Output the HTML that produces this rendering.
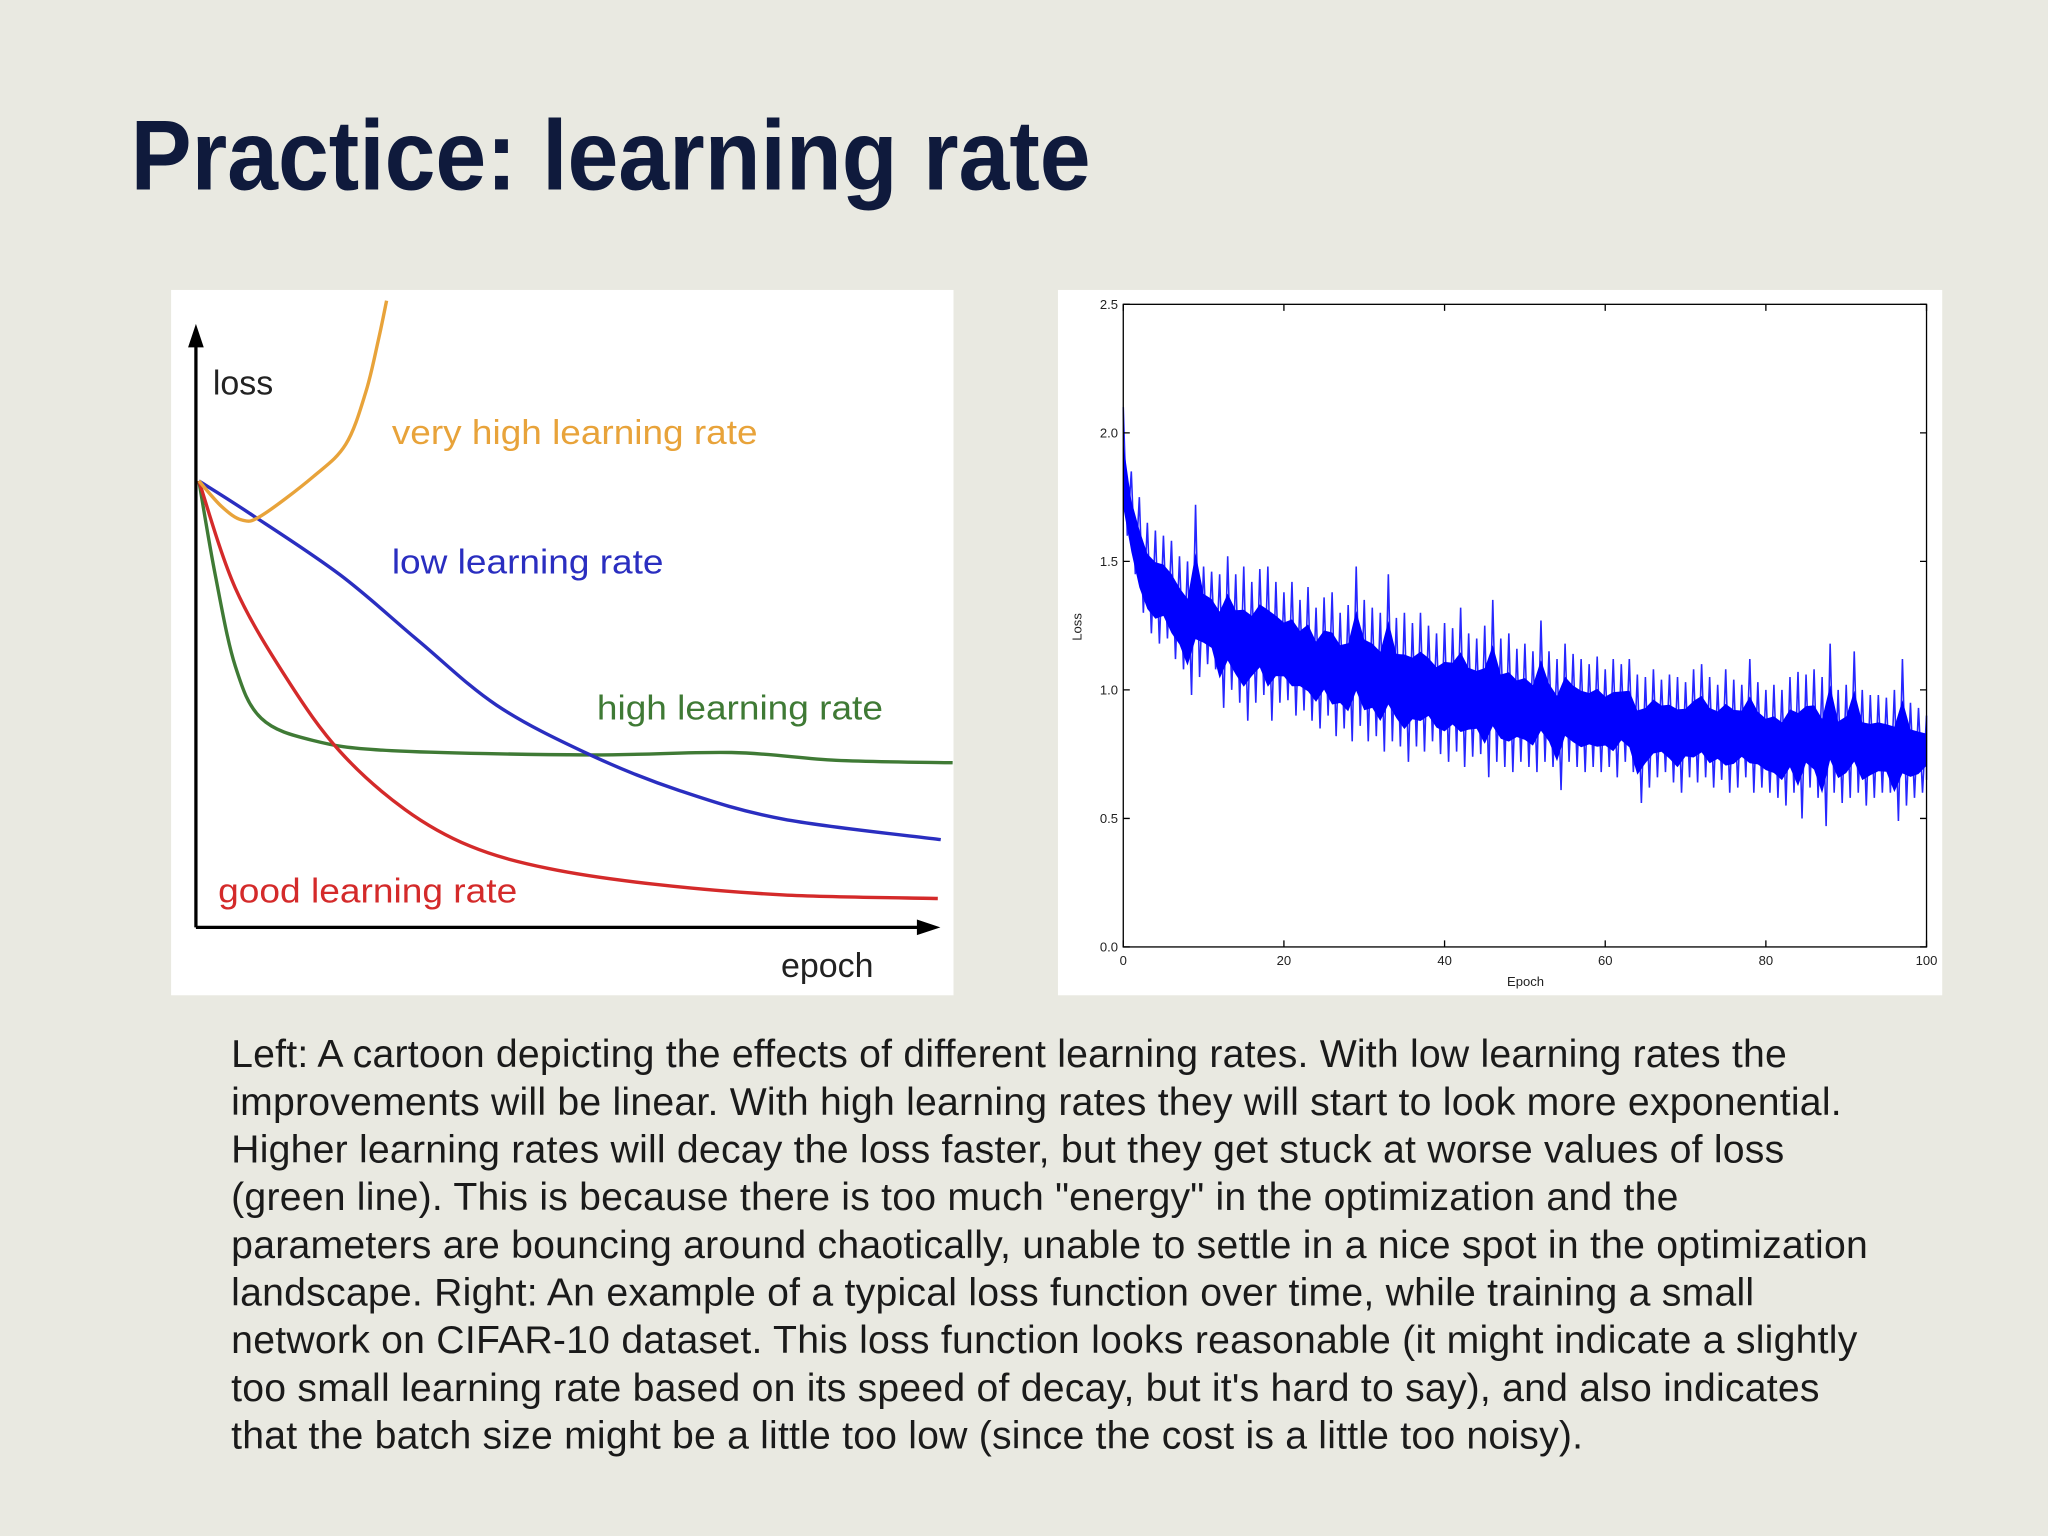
<!DOCTYPE html>
<html><head><meta charset="utf-8"><style>html,body{margin:0;padding:0;background:#e9e9e1}svg{display:block}</style></head>
<body>
<svg id="slide" width="2048" height="1536" viewBox="0 0 1568 1176" xmlns="http://www.w3.org/2000/svg" font-family="'Liberation Sans', sans-serif">
<rect width="1568" height="1176" fill="#e9e9e1"/>
<text x="100" y="145" font-size="76" font-weight="bold" fill="#0f1a3c" textLength="735" lengthAdjust="spacingAndGlyphs">Practice: learning rate</text>

<g>
<rect x="131" y="222" width="599" height="540" fill="#ffffff"/>
<g id="lc"></g>
<line x1="150" y1="710" x2="150" y2="262" stroke="#000" stroke-width="2.5"/>
<polygon points="150,248 144,266 156,266" fill="#000"/>
<line x1="150" y1="710" x2="704" y2="710" stroke="#000" stroke-width="2.5"/>
<polygon points="720,710 702,704 702,716" fill="#000"/>
<text x="163" y="302" font-size="26" fill="#222">loss</text>
<text x="598" y="748" font-size="26" fill="#222">epoch</text>
<text x="300" y="340" font-size="26" fill="#e8a33a" textLength="280" lengthAdjust="spacingAndGlyphs">very high learning rate</text>
<text x="300" y="439" font-size="26" fill="#2a2ec0" textLength="208" lengthAdjust="spacingAndGlyphs">low learning rate</text>
<text x="457" y="551" font-size="26" fill="#3f7a35" textLength="219" lengthAdjust="spacingAndGlyphs">high learning rate</text>
<text x="167" y="691" font-size="26" fill="#d42a2a" textLength="229" lengthAdjust="spacingAndGlyphs">good learning rate</text>
</g>

<g>
<rect x="810" y="222" width="677" height="540" fill="#ffffff"/>
<g id="rc"></g>
<rect x="860" y="233" width="615" height="492" fill="none" stroke="#000" stroke-width="1"/>
<text x="828" y="480" font-size="10" fill="#222" text-anchor="middle" transform="rotate(-90 828 480)">Loss</text>
<text x="1168" y="755" font-size="10" fill="#222" text-anchor="middle">Epoch</text>
</g>

<g font-size="30" fill="#1a1a1a">
<text x="177" y="817" textLength="1191" lengthAdjust="spacing">Left: A cartoon depicting the effects of different learning rates. With low learning rates the</text>
<text x="177" y="853.5" textLength="1233" lengthAdjust="spacing">improvements will be linear. With high learning rates they will start to look more exponential.</text>
<text x="177" y="890" textLength="1189" lengthAdjust="spacing">Higher learning rates will decay the loss faster, but they get stuck at worse values of loss</text>
<text x="177" y="926.5" textLength="1108" lengthAdjust="spacing">(green line). This is because there is too much "energy" in the optimization and the</text>
<text x="177" y="963" textLength="1253" lengthAdjust="spacing">parameters are bouncing around chaotically, unable to settle in a nice spot in the optimization</text>
<text x="177" y="999.5" textLength="1166" lengthAdjust="spacing">landscape. Right: An example of a typical loss function over time, while training a small</text>
<text x="177" y="1036" textLength="1245" lengthAdjust="spacing">network on CIFAR-10 dataset. This loss function looks reasonable (it might indicate a slightly</text>
<text x="177" y="1072.5" textLength="1216" lengthAdjust="spacing">too small learning rate based on its speed of decay, but it's hard to say), and also indicates</text>
<text x="177" y="1109" textLength="1035" lengthAdjust="spacing">that the batch size might be a little too low (since the cost is a little too noisy).</text>
</g>
</svg>
<script>
// ---- Left cartoon data (abstract epoch 0-100, loss 0-100) ----
const lowX = [0.4,7,19.4,29.9,40.5,52.8,65.1,79.2,100.4];
const lowY = [74.3,69.1,58.7,47.8,37,28.9,22.8,18,14.6];
const highX = [0.4,2.6,5.3,8.8,15.8,26.4,52.8,72.2,86.3,102];
const highY = [74.3,58.7,43.5,34.8,31.1,29.4,28.7,29.1,27.8,27.4];
const goodX = [0.4,5.3,12.3,19.4,28.2,37,47.5,61.6,79.2,100];
const goodY = [74.3,56.5,41.3,29.3,19.6,13.5,9.8,7.2,5.4,4.8];
const veryX = [0.4,3.5,6.2,8.8,15.8,20.2,22.9,24.6,25.7];
const veryY = [74.3,70,67.8,68.5,75,80.4,89.1,97.8,104.3];

// ---- Right chart data ----
const xTicks = [0,20,40,60,80,100];
const yTicks = [0.0,0.5,1.0,1.5,2.0,2.5];
const yTickLabels = ["0.0","0.5","1.0","1.5","2.0","2.5"];
const lossUpper = [2.1,1.85,1.75,1.65,1.62,1.6,1.58,1.52,1.5,1.72,
1.48,1.46,1.45,1.52,1.45,1.48,1.42,1.47,1.48,1.42,
1.38,1.42,1.35,1.4,1.32,1.36,1.38,1.3,1.33,1.48,
1.35,1.32,1.3,1.45,1.28,1.3,1.26,1.3,1.25,1.22,
1.26,1.24,1.32,1.22,1.2,1.25,1.35,1.2,1.22,1.16,
1.18,1.15,1.27,1.15,1.12,1.18,1.14,1.12,1.1,1.13,
1.08,1.12,1.1,1.12,1.06,1.05,1.08,1.04,1.06,1.05,
1.03,1.08,1.1,1.05,1.02,1.08,1.04,1.02,1.12,1.03,
1.0,1.02,1.0,1.05,1.07,1.06,1.08,1.05,1.18,1.0,
1.02,1.15,1.0,0.98,0.98,0.97,1.0,1.12,0.95,0.93,0.9];
const lossLower = [1.6,1.45,1.3,1.22,1.18,1.2,1.12,1.08,0.98,1.05,
1.1,1.08,0.93,1.0,0.95,0.88,0.95,0.98,0.88,0.95,
0.96,0.9,0.92,0.88,0.85,0.9,0.82,0.85,0.8,0.86,
0.8,0.82,0.76,0.8,0.78,0.72,0.78,0.76,0.8,0.75,
0.72,0.76,0.7,0.74,0.75,0.66,0.72,0.7,0.68,0.72,
0.7,0.68,0.72,0.7,0.61,0.72,0.7,0.68,0.7,0.68,
0.7,0.66,0.72,0.68,0.56,0.62,0.66,0.68,0.64,0.6,
0.66,0.64,0.66,0.62,0.65,0.6,0.62,0.66,0.6,0.62,
0.6,0.58,0.55,0.6,0.5,0.62,0.58,0.47,0.6,0.56,
0.58,0.6,0.55,0.58,0.6,0.6,0.49,0.55,0.58,0.6,0.65];

const NS = "http://www.w3.org/2000/svg";
function mk(tag, attrs, parent){const e=document.createElementNS(NS,tag);for(const k in attrs)e.setAttribute(k,attrs[k]);parent.appendChild(e);return e;}

// Left scales
const lx = v => 150 + v*5.68;
const ly = v => 710 - v*4.6;
function smooth(xs, ys){
  const p = xs.map((x,i)=>[lx(x),ly(ys[i])]);
  let d = "M"+p[0][0]+","+p[0][1];
  for(let i=0;i<p.length-1;i++){
    const p0=p[Math.max(0,i-1)],p1=p[i],p2=p[i+1],p3=p[Math.min(p.length-1,i+2)];
    const c1=[p1[0]+(p2[0]-p0[0])/6,p1[1]+(p2[1]-p0[1])/6];
    const c2=[p2[0]-(p3[0]-p1[0])/6,p2[1]-(p3[1]-p1[1])/6];
    d+=" C"+c1[0]+","+c1[1]+" "+c2[0]+","+c2[1]+" "+p2[0]+","+p2[1];
  }
  return d;
}
const lc = document.getElementById("lc");
const c1 = mk("path",{d:smooth(highX,highY),fill:"none",stroke:"#3f7a35","stroke-width":2.6},lc);


const c2 = mk("path",{d:smooth(goodX,goodY),fill:"none",stroke:"#d42a2a","stroke-width":2.6},lc);


const c3 = mk("path",{d:smooth(lowX,lowY),fill:"none",stroke:"#2a2ec0","stroke-width":2.6},lc);


const c4 = mk("path",{d:smooth(veryX,veryY),fill:"none",stroke:"#e8a33a","stroke-width":2.6},lc);



// Right scales
const rx = v => 860 + v/100*615;
const ry = v => 725 - v/2.5*492;
const rc = document.getElementById("rc");
let core = [];
lossUpper.forEach((u,i)=>{const l=lossLower[i];core.push(rx(i)+","+ry(u-(u-l)*0.28));});
for(let i=lossLower.length-1;i>=0;i--){const u=lossUpper[i],l=lossLower[i];core.push(rx(i)+","+ry(l+(u-l)*0.22));}
const band = mk("polygon",{points:core.join(" "),fill:"#0000ff"},rc);


let zz = [];
lossUpper.forEach((u,i)=>{zz.push(rx(i)+","+ry(u));if(i<lossUpper.length-1)zz.push(rx(i+0.5)+","+ry(lossLower[i]));else zz.push(rx(i)+","+ry(lossLower[i]));});
const line = mk("polyline",{points:zz.join(" "),fill:"none",stroke:"#0000ff","stroke-width":1.2,"stroke-opacity":0.85},rc);


xTicks.forEach(t=>{
  const tk=mk("path",{d:`M${rx(t)},725v-5M${rx(t)},233v5`,stroke:"#000","stroke-width":1},rc);
  
  
  const tl=mk("text",{x:rx(t),y:739,"font-size":10,"text-anchor":"middle",fill:"#222"},rc);
  tl.textContent=t;
  
  
});
yTicks.forEach((t,i)=>{
  const tk=mk("path",{d:`M860,${ry(t)}h5M1475,${ry(t)}h-5`,stroke:"#000","stroke-width":1},rc);
  
  
  const tl=mk("text",{x:856,y:ry(t)+3.5,"font-size":10,"text-anchor":"end",fill:"#222"},rc);
  tl.textContent=yTickLabels[i];
  
  
});
</script>
</body></html>
